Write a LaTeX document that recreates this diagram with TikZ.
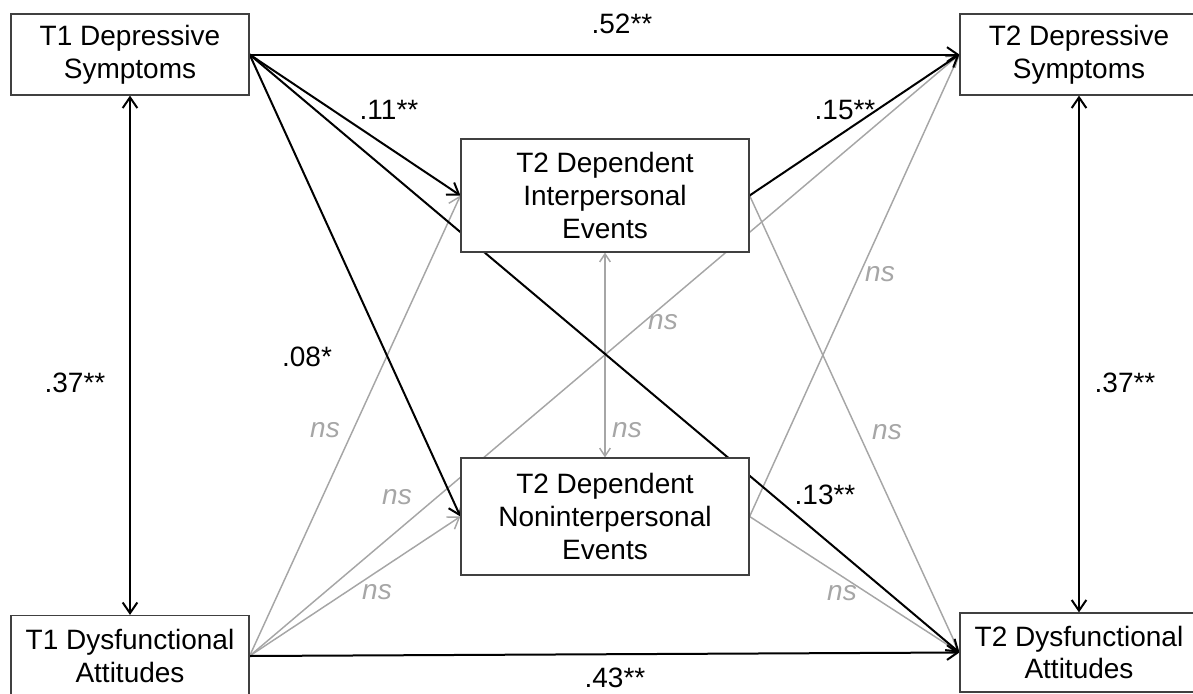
\documentclass[tikz,border=0pt]{standalone}
\usepackage{fontspec}
\setmainfont{Liberation Sans}
\usetikzlibrary{arrows.meta}
\definecolor{lg}{RGB}{166,166,166}
\definecolor{bx}{RGB}{64,64,64}
\pgfdeclarelayer{bg}
\pgfsetlayers{bg,main}
\begin{document}
\begin{tikzpicture}[x=0.75pt,y=-0.75pt,
  box/.style={draw=bx,line width=0.9pt,fill=white,align=center,inner sep=0pt,font=\fontsize{21}{24.5}\selectfont},
  big/.style={box,minimum width=178.5pt,minimum height=60.75pt},
  midbox/.style={box,minimum width=216pt},
  tipb/.style={-{Straight Barb[length=8pt,width=11pt]}},
  blk/.style={draw=black,line width=1.5pt,tipb},
  gry/.style={draw=lg,line width=1.1pt,tipb},
  lab/.style={font=\fontsize{21}{24}\selectfont},
  nslab/.style={text=lg,font=\fontsize{21}{24}\selectfont\itshape}]
\clip (0,0) rectangle (1193,693);
\useasboundingbox (0,0) rectangle (1193,693);
% boxes
\node[big] (t1dep) at (130,54.5) {T1 Depressive\\Symptoms};
\node[big] (t2dep) at (1079,54.5) {T2 Depressive\\Symptoms};
\node[big] (t1dys) at (130,656) {T1 Dysfunctional\\Attitudes};
\node[big,minimum height=59.25pt] (t2dys) at (1079,652.5) {T2 Dysfunctional\\Attitudes};
\node[midbox,minimum height=84.75pt] (interp) at (605,195.5) {T2 Dependent\\Interpersonal\\Events};
\node[midbox,minimum height=87.75pt] (nonint) at (605,516.5) {T2 Dependent\\Noninterpersonal\\Events};
% connectors
\begin{pgfonlayer}{bg}
\draw[gry] (t1dys.east) -- (interp.west);
\draw[gry] (t1dys.east) -- (nonint.west);
\draw[gry] (t1dys.east) -- (t2dep.west);
\draw[gry] (interp.east) -- (t2dys.west);
\draw[gry] (nonint.east) -- (t2dep.west);
\draw[gry] (nonint.east) -- (t2dys.west);
\draw[draw=lg,line width=1.1pt,{Straight Barb[length=6pt,width=8pt]}-{Straight Barb[length=6pt,width=8pt]}] (interp.south) -- (nonint.north);
\draw[blk] (t1dep.east) -- (t2dep.west);
\draw[blk] (t1dep.east) -- (interp.west);
\draw[blk] (t1dep.east) -- (nonint.west);
\draw[blk] (t1dep.east) -- (t2dys.west);
\draw[blk] (interp.east) -- (t2dep.west);
\draw[blk] (t1dys.east) -- (t2dys.west);
\draw[blk,{Straight Barb[length=8pt,width=11pt]}-{Straight Barb[length=8pt,width=11pt]}] (t1dep.south) -- (t1dys.north);
\draw[blk,{Straight Barb[length=8pt,width=11pt]}-{Straight Barb[length=8pt,width=11pt]}] (t2dep.south) -- (t2dys.north);
\end{pgfonlayer}
% labels
\node[lab] (l52) at (622,24) {.52**};
\node[lab] (l11) at (389,110) {.11**};
\node[lab] (l15) at (845,110) {.15**};
\node[lab] (l08) at (307,357) {.08*};
\node[lab] (l37a) at (75,383) {.37**};
\node[lab] (l37b) at (1125,383) {.37**};
\node[lab] (l13) at (825,495) {.13**};
\node[lab] (l43) at (615,678) {.43**};
\node[nslab] (n1) at (325,430) {ns};
\node[nslab] (n2) at (397,497) {ns};
\node[nslab] (n3) at (377,592) {ns};
\node[nslab] (n4) at (663,322) {ns};
\node[nslab] (n5) at (627,430) {ns};
\node[nslab] (n6) at (887,432) {ns};
\node[nslab] (n7) at (842,593) {ns};
\node[nslab] (n8) at (880,274) {ns};
\end{tikzpicture}
\end{document}
